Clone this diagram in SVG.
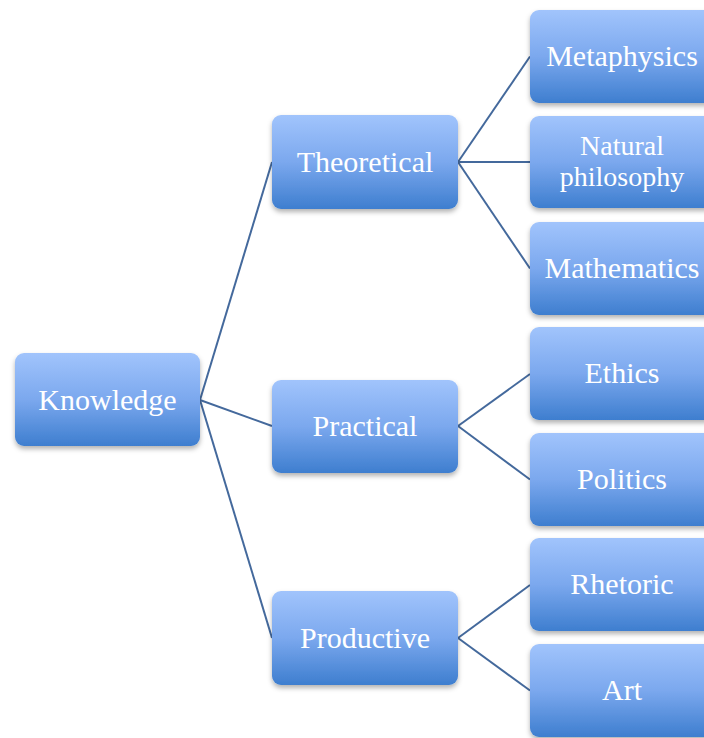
<svg xmlns="http://www.w3.org/2000/svg" width="704" height="738" viewBox="0 0 704 738">
<style>
.node rect{fill:url(#g);filter:url(#sh)}
.node text{font-family:"Liberation Serif","Times New Roman",serif;font-size:30px;fill:#ffffff;text-anchor:middle}
.node text.sm{font-size:28px}
.conn line{stroke:#44699C;stroke-width:2;fill:none}
</style>
<defs>
<linearGradient id="g" x1="0" y1="0" x2="0" y2="1">
<stop offset="0" stop-color="#A1C4FC"/>
<stop offset="0.5" stop-color="#7BA8EE"/>
<stop offset="1" stop-color="#3E7ECF"/>
</linearGradient>
<filter id="sh" x="-10%" y="-10%" width="120%" height="130%">
<feDropShadow dx="0" dy="3" stdDeviation="2.5" flood-color="#000" flood-opacity="0.3"/>
</filter>
</defs>
<g class="conn">
<line x1="200" y1="400" x2="272" y2="162"/>
<line x1="200" y1="400" x2="272" y2="426"/>
<line x1="200" y1="400" x2="272" y2="638"/>
<line x1="458" y1="162" x2="530" y2="56.5"/>
<line x1="458" y1="162" x2="530" y2="162"/>
<line x1="458" y1="162" x2="530" y2="268.5"/>
<line x1="458" y1="426" x2="530" y2="374"/>
<line x1="458" y1="426" x2="530" y2="479.5"/>
<line x1="458" y1="638" x2="530" y2="585"/>
<line x1="458" y1="638" x2="530" y2="690.5"/>
</g>
<g id="knowledge" class="node"><rect x="15" y="353" width="185" height="93" rx="9"/><text x="107.5" y="410">Knowledge</text></g>
<g id="theoretical" class="node"><rect x="272" y="115" width="186" height="94" rx="9"/><text x="365" y="172">Theoretical</text></g>
<g id="practical" class="node"><rect x="272" y="380" width="186" height="93" rx="9"/><text x="365" y="436">Practical</text></g>
<g id="productive" class="node"><rect x="272" y="591" width="186" height="94" rx="9"/><text x="365" y="648">Productive</text></g>
<g id="metaphysics" class="node"><rect x="530" y="10" width="185" height="93" rx="9"/><text x="622" y="66">Metaphysics</text></g>
<g id="natural" class="node"><rect x="530" y="116" width="185" height="92" rx="9"/><text class="sm" x="622" y="155">Natural</text><text class="sm" x="622" y="186">philosophy</text></g>
<g id="mathematics" class="node"><rect x="530" y="222" width="185" height="93" rx="9"/><text x="622" y="278">Mathematics</text></g>
<g id="ethics" class="node"><rect x="530" y="327" width="185" height="93" rx="9"/><text x="622" y="383">Ethics</text></g>
<g id="politics" class="node"><rect x="530" y="433" width="185" height="93" rx="9"/><text x="622" y="489">Politics</text></g>
<g id="rhetoric" class="node"><rect x="530" y="538" width="185" height="93" rx="9"/><text x="622" y="594">Rhetoric</text></g>
<g id="art" class="node"><rect x="530" y="644" width="185" height="93" rx="9"/><text x="622" y="700">Art</text></g>
</svg>
